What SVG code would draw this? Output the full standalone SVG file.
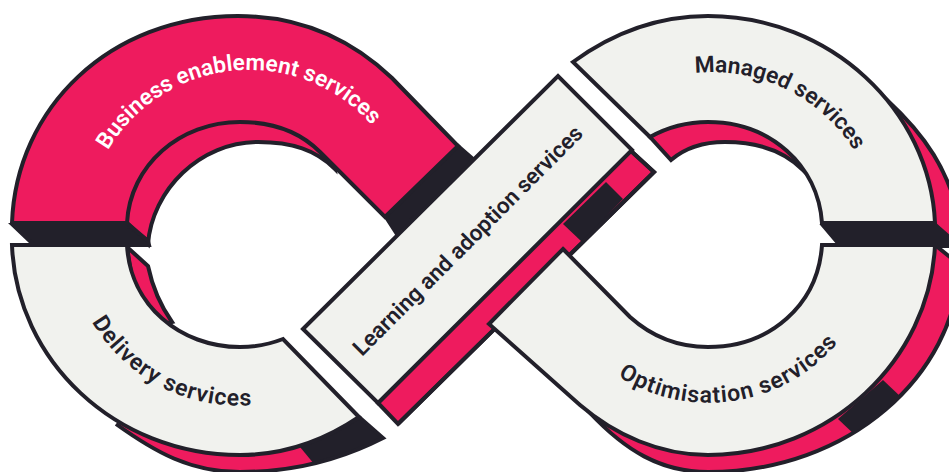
<svg xmlns="http://www.w3.org/2000/svg" width="949" height="472" viewBox="0 0 949 472">
<style>
.s{stroke:#22202a;stroke-width:4;stroke-linejoin:miter}
.n{fill:none}
.p{fill:#ee1b5e}.f{fill:#f1f2ee}.k{fill:#22202a}
text{font-family:Roboto,"Liberation Sans",sans-serif;font-weight:600;font-size:22px}
.d{fill:#22202a}.w{fill:#fff}
.c{font-size:23px;letter-spacing:.9px}
</style>
<defs>
<clipPath id="c2"><path d="M240 350L359 417L383 438C340 460 290 472 240 472Z"/></clipPath>
<clipPath id="c4"><path d="M708 400L935 245L960 265C955 375 850 472 708 472Z"/></clipPath>
</defs>
<rect width="949" height="472" fill="#fff"/>
<g id="connectors"></g>
<g id="business-enablement">
<path class="p s" d="M127 223L148 244C152 190 200 142 258 142C292 142 316 150 335 169L330 120L200 100L110 150Z"/>
<path class="k s" stroke-width="3" d="M13 225H127L148 241L149 245H34Z"/>
<path class="k s" d="M386 217L458 146L473 159L397 234Z"/>
<path class="p s" d="M12 223C16 108 110 16 238 16C300 16 350 38 392 78L458 146L385 217L320 152C300 132 272 122 240 122C180 122 130 165 127 223Z"/>
<path class="n s" d="M127 223L148 241"/>
<text class="w" style="font-size:22.6px"><textPath href="#tp1" startOffset="2">Business enablement services</textPath></text>
<path id="tp1" class="n" d="M107 152A164 164 0 0 1 390 150"/>
</g>
<g id="delivery">
<path class="p s" d="M127 247L148 266C152 285 160 305 172 322L140 330Z"/>
<path class="p" d="M240 400L359 417L383 438C340 460 290 472 240 472C190 472 155 452 116 424Z"/>
<path class="k" clip-path="url(#c2)" d="M300 447L359 417L390 438L319 470Z"/>
<path class="n s" d="M359 417L383 438C340 460 290 472 240 472C190 472 155 452 116 424"/>
<path class="f s" d="M12 245H127C130 305 180 347 240 347C255 347 270 344 283 339L359 417C325 440 285 455 240 455C115 455 16 360 12 245Z"/>
<text class="d c"><textPath href="#tp2">Delivery services</textPath></text>
<path id="tp2" class="n" d="M92 322A170 170 0 0 0 300 394"/>
</g>
<g id="learning-adoption">
<path class="p s" d="M378 403L630 150L654 172L398 424Z"/>
<path class="k" d="M563 224L582 242L623 199L606 182Z"/>
<path class="n s" d="M630 150L654 172L398 424"/>
<path class="f s" d="M303 329L558 76L632 150L378 403Z"/>
<text class="d" x="362" y="357" transform="rotate(-45 362 357)" style="font-size:22.4px">Learning and adoption services</text>
</g>
<g id="managed">
<path class="p s" d="M650 137L671 160C685 148 705 142 725 142C760 142 785 152 803 170L790 110L700 100Z"/>
<path class="p s" d="M887 100C925 135 949 170 960 222V246H935Z"/>
<path class="k" d="M821 222L838 245H951V236L935 222Z"/>
<path class="n s" d="M821 223L838 243H950"/>
<path class="f s" d="M573 62C610 35 655 16 708 16C830 16 930 110 935 223H822C818 165 770 122 708 122C688 122 668 127 650 137Z"/>
<text class="d" style="font-size:22.8px"><textPath href="#tp3">Managed services</textPath></text>
<path id="tp3" class="n" d="M695 73A168 168 0 0 1 880 240"/>
</g>
<g id="optimisation">
<path class="p s" d="M935 245L960 265C955 375 850 472 708 472C660 472 625 450 590 413L708 400Z"/>
<path class="k" clip-path="url(#c4)" d="M883 380L902 398L857 437L838 419Z"/>
<path class="f s" d="M563 249L630 317C650 335 675 347 708 347C770 347 818 305 822 245H935C930 360 830 455 708 455C660 455 615 435 580 405L489 324Z"/>
<text class="d c"><textPath href="#tp4">Optimisation services</textPath></text>
<path id="tp4" class="n" d="M618 376A168 168 0 0 0 850 326"/>
</g>
</svg>
